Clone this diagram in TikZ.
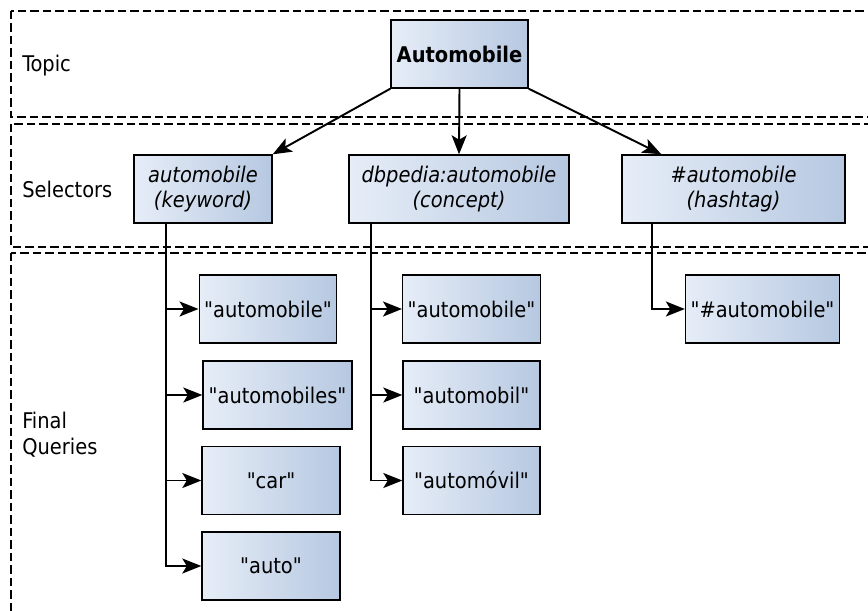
\documentclass[tikz,border=0pt]{standalone}
\usepackage{fontspec}
\setmainfont{DejaVu Sans Condensed}
\usetikzlibrary{arrows.meta}
\definecolor{boxl}{HTML}{E6EDF7}
\definecolor{boxr}{HTML}{B6C8E1}
\newcommand{\boxfont}{\fontsize{12.3pt}{13.8pt}\selectfont}
\newcommand{\qq}[1]{\textquotedbl#1\textquotedbl}
\tikzset{
    normal/.style={draw, line width=0.8pt},
    box/.style={style=normal, left color=boxl, right color=boxr, minimum height=1.36cm, inner sep=1mm, align=center, font=\boxfont},
    sel/.style={style=box, font=\boxfont\itshape}, % selector boxes
    q/.style={style=box, minimum width=2.76cm}, % final queries
    e/.style={line width=1.1pt, -{Stealth[length=3.8mm, width=3mm, inset=0.9mm]}},
    band/.style={line width=1.2pt, dash pattern=on 1.7mm off 0.8mm},
    lbl/.style={anchor=west, align=left, inner sep=0pt, font=\fontsize{12.3pt}{14.8pt}\selectfont}
}

\begin{document}
\begin{tikzpicture}[x=0.02cm, y=-0.02cm]
    \clip (0,0) rectangle (868,611);

    % bands
    \draw[band] (11,11) rectangle (900,117);
    \draw[band] (11,124) rectangle (900,247);
    \draw[band] (11,253) rectangle (900,660);
    \node[lbl] (topic) at (22,66) {Topic};
    \node[lbl] (sels) at (22,189) {Selectors};
    \node[lbl] (final) at (22,435) {Final\\Queries};

    % topic and selectors
    \node[box, minimum width=2.74cm] (auto) at (459.5,54) {\bfseries Automobile};
    \node[sel, minimum width=2.76cm] (kw) at (203,189) {automobile\\(keyword)};
    \node[sel, minimum width=4.4cm] (cpt) at (459,189) {dbpedia:automobile\\(concept)};
    \node[sel, minimum width=4.46cm] (tag) at (733.5,189) {\#automobile\\(hashtag)};

    % final queries
    \node[q, minimum width=2.6cm] (k1) at (268,309) {\qq{automobile}};
    \node[q, minimum width=2.98cm] (k2) at (277.5,395) {\qq{automobiles}};
    \node[q] (k3) at (271,480.5) {\qq{car}};
    \node[q] (k4) at (271,566) {\qq{auto}};
    \node[q, minimum width=2.74cm] (c1) at (471.5,309) {\qq{automobile}};
    \node[q, minimum width=2.74cm] (c2) at (471.5,395) {\qq{automobil}};
    \node[q, minimum width=2.74cm] (c3) at (471.5,480.5) {\qq{automóvil}};
    \node[q, minimum width=2.98cm] (t1) at (762.5,309) {\qq{\#automobile}};

    \draw[e] (auto.south west) -- (kw.north east);
    \draw[e] (auto.south) -- (cpt.north);
    \draw[e] (auto.south east) -- ([xshift=0.8cm]tag.north west);

    \foreach \n in {k1,k2,k3,k4}
        \draw[e] ([xshift=0.66cm]kw.south west) |- (\n.west);
    \foreach \n in {c1,c2,c3}
        \draw[e] ([xshift=0.46cm]cpt.south west) |- (\n.west);
    \draw[e] ([xshift=0.62cm]tag.south west) |- (t1.west);
\end{tikzpicture}
\end{document}
